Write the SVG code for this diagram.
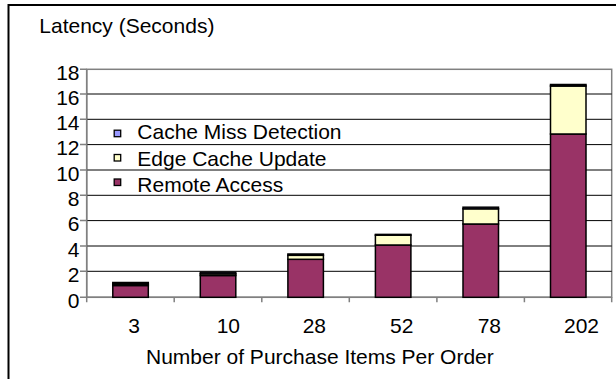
<svg xmlns="http://www.w3.org/2000/svg" width="616" height="379" viewBox="0 0 616 379">
  <style>
    text { font-family: "Liberation Sans", Arial, sans-serif; font-size: 21px; fill: #000; }
    .ylab { text-anchor: end; }
    .grid { stroke: #000; stroke-width: 1; fill: none; }
    .axis { stroke: #808080; stroke-width: 1.5; fill: none; }
    .seg { stroke: #000; stroke-width: 1.5; }
    .remote { fill: #993366; }
    .edge { fill: #FFFFCC; }
    .miss { fill: #9999FF; }
    .key { stroke: #000; stroke-width: 1.3; }
  </style>

  <rect width="616" height="379" fill="#fff"/>
  <!-- chart frame, runs off the right and bottom edges -->
  <rect x="8.5" y="5" width="700" height="500" fill="none" stroke="#000" stroke-width="2"/>

  <g id="title">
    <text x="39.3" y="32.7">Latency (Seconds)</text>
  </g>

  <!-- plot area and gridlines -->
  <g id="plot">
    <rect x="86.7" y="69.3" width="525" height="228" fill="#fff" stroke="#808080" stroke-width="1.5"/>
    <path class="grid" d="M86.7 94H611.7M86.7 119.3H611.7M86.7 144.6H611.7M86.7 170H611.7M86.7 195.3H611.7M86.7 220.6H611.7M86.7 246H611.7M86.7 271.3H611.7"/>
  </g>

  <g id="y-axis">
    <path class="axis" d="M86.7 69.3V297.3M80 69.3H86.7M80 94H86.7M80 119.3H86.7M80 144.6H86.7M80 170H86.7M80 195.3H86.7M80 220.6H86.7M80 246H86.7M80 271.3H86.7M80 297.3H86.7"/>
    <text class="ylab" x="79.5" y="80">18</text>
    <text class="ylab" x="79.5" y="104.7">16</text>
    <text class="ylab" x="79.5" y="130">14</text>
    <text class="ylab" x="79.5" y="155.3">12</text>
    <text class="ylab" x="79.5" y="180.7">10</text>
    <text class="ylab" x="79.5" y="206">8</text>
    <text class="ylab" x="79.5" y="231.3">6</text>
    <text class="ylab" x="79.5" y="256.7">4</text>
    <text class="ylab" x="79.5" y="282">2</text>
    <text class="ylab" x="79.5" y="308">0</text>
  </g>

  <g id="x-axis">
    <path class="axis" d="M86.7 297.3H611.7M86.7 297.3V302.3M174.2 297.3V302.3M261.8 297.3V302.3M349.3 297.3V302.3M436.9 297.3V302.3M524.4 297.3V302.3M611.7 297.3V302.3"/>
    <text x="128.3" y="332.7">3</text>
    <text x="216.7" y="332.7">10</text>
    <text x="302.7" y="332.7">28</text>
    <text x="390" y="332.7">52</text>
    <text x="477.7" y="332.7">78</text>
    <text x="564" y="332.7">202</text>
    <text x="146" y="364">Number of Purchase Items Per Order</text>
  </g>

  <!-- stacked bars: remote access, edge cache update, cache miss detection -->
  <g id="bar-3">
    <rect class="seg remote" x="112.8" y="285.5" width="35.5" height="11.8"/>
    <rect class="seg edge" x="112.8" y="284" width="35.5" height="1.5"/>
    <rect class="seg miss" x="112.8" y="282.5" width="35.5" height="1.5"/>
  </g>
  <g id="bar-10">
    <rect class="seg remote" x="200.3" y="275.5" width="35.5" height="21.8"/>
    <rect class="seg edge" x="200.3" y="273.8" width="35.5" height="1.7"/>
    <rect class="seg miss" x="200.3" y="272.2" width="35.5" height="1.6"/>
  </g>
  <g id="bar-28">
    <rect class="seg remote" x="287.9" y="259.3" width="35.5" height="38"/>
    <rect class="seg edge" x="287.9" y="255.3" width="35.5" height="4"/>
    <rect class="seg miss" x="287.9" y="254" width="35.5" height="1.3"/>
  </g>
  <g id="bar-52">
    <rect class="seg remote" x="375.4" y="245" width="35.5" height="52.3"/>
    <rect class="seg edge" x="375.4" y="235.2" width="35.5" height="9.8"/>
    <rect class="seg miss" x="375.4" y="234.4" width="35.5" height="0.8"/>
  </g>
  <g id="bar-78">
    <rect class="seg remote" x="463" y="224" width="35.5" height="73.3"/>
    <rect class="seg edge" x="463" y="208.8" width="35.5" height="15.2"/>
    <rect class="seg miss" x="463" y="207.2" width="35.5" height="1.6"/>
  </g>
  <g id="bar-202">
    <rect class="seg remote" x="550.5" y="134" width="35.5" height="163.3"/>
    <rect class="seg edge" x="550.5" y="86" width="35.5" height="48"/>
    <rect class="seg miss" x="550.5" y="84.5" width="35.5" height="1.5"/>
  </g>

  <g id="legend">
    <rect class="key miss" x="114.2" y="130.2" width="6.5" height="6.5"/>
    <text x="137.3" y="139">Cache Miss Detection</text>
    <rect class="key edge" x="114.2" y="154.5" width="6.5" height="6.5"/>
    <text x="137.3" y="165.5">Edge Cache Update</text>
    <rect class="key remote" x="114.2" y="179" width="6.5" height="6.5"/>
    <text x="137.3" y="192">Remote Access</text>
  </g>
</svg>
